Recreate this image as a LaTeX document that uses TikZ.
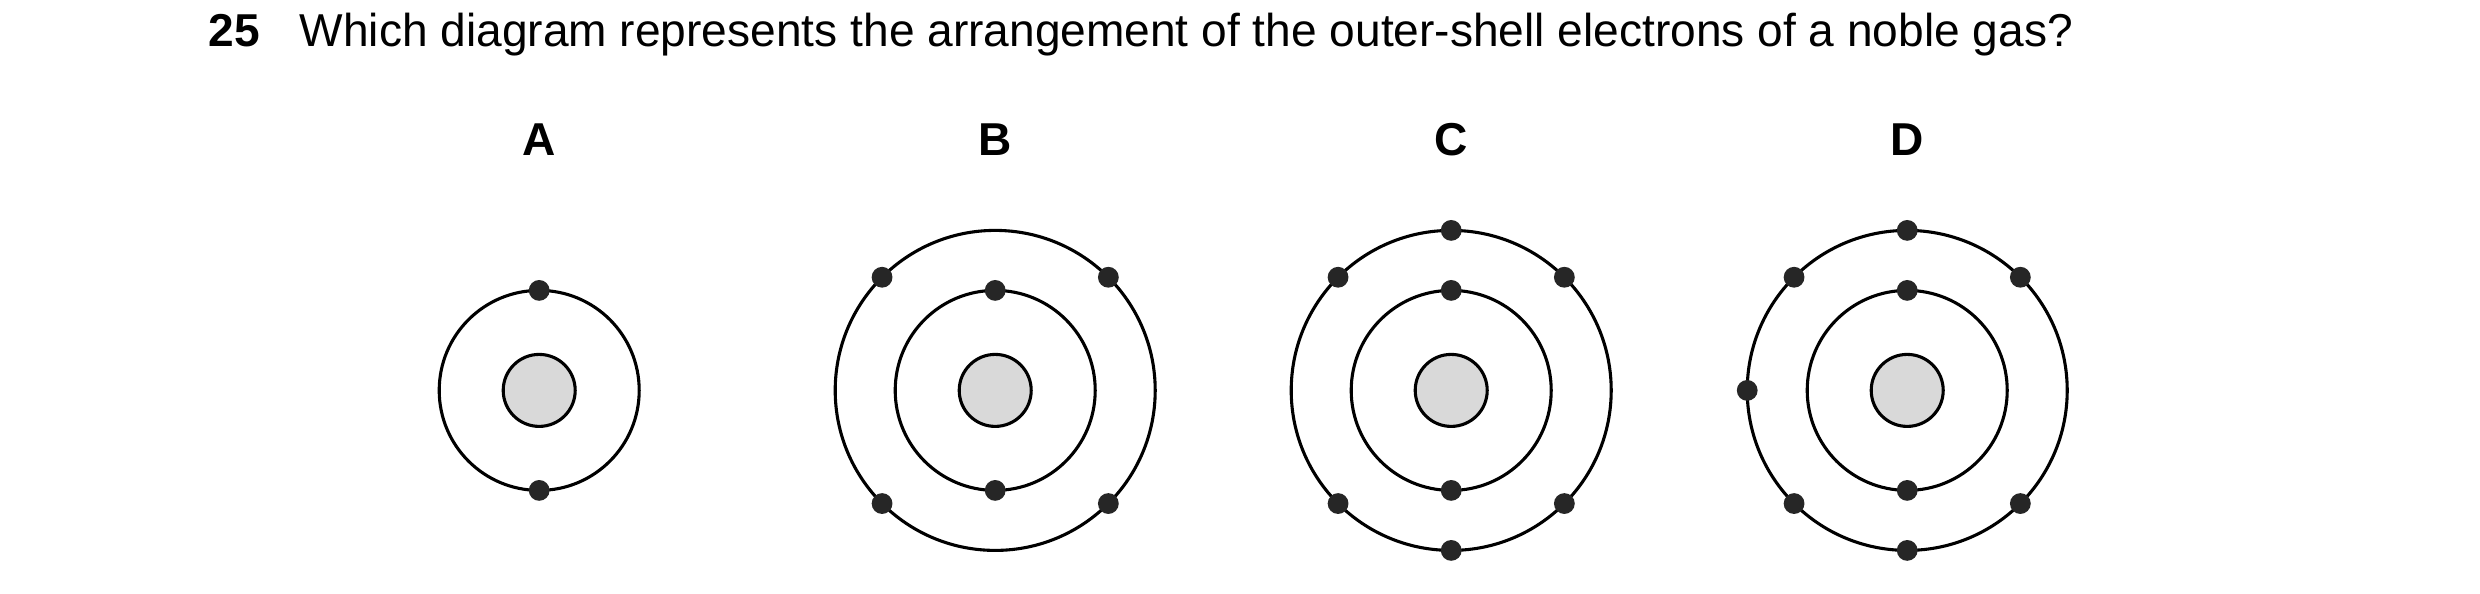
\documentclass[tikz,border=0pt]{standalone}
\usepackage{fontspec}
\setmainfont{Liberation Sans}
\usetikzlibrary{calc}
\begin{document}
\begin{tikzpicture}[x=0.02cm, y=-0.02cm,
    shell/.style={line width=1.1pt},
    nucleus/.style={line width=1.1pt, fill=gray!30},
    electron/.style={fill=black!85, draw=none},
    txt/.style={font=\fontsize{16.4}{19}\selectfont},
    btxt/.style={font=\fontsize{16.4}{19}\selectfont\bfseries}]
  \useasboundingbox (0,0) rectangle (1550,371);
  % question
  \node[btxt, anchor=base west, inner sep=0pt] (num) at (130,29) {25};
  \node[txt, anchor=base west, inner sep=0pt] (question) at (187,29)
    {Which diagram represents the arrangement of the outer-shell electrons of a noble gas?};
  % labels
  \foreach \lab/\x in {A/337, B/622, C/907, D/1192}
    \node[btxt] (lab\lab) at (\x,87) {\lab};
  % nuclei and inner shells
  \foreach \x in {337, 622, 907, 1192} {
    \draw[nucleus] (\x,244) circle (22.5);
    \draw[shell] (\x,244) circle (62.5);
    \fill[electron] (\x,181.5) circle (6.5);
    \fill[electron] (\x,306.5) circle (6.5);
  }
  % outer shells
  \foreach \x in {622, 907, 1192} {
    \draw[shell] (\x,244) circle (100);
    \foreach \a in {45, 135, 225, 315}
      \fill[electron] ($(\x,244)+(\a:100)$) circle (6.5);
  }
  \foreach \x in {907, 1192} {
    \fill[electron] (\x,144) circle (6.5);
    \fill[electron] (\x,344) circle (6.5);
  }
  \fill[electron] (1092,244) circle (6.5);
\end{tikzpicture}
\end{document}
